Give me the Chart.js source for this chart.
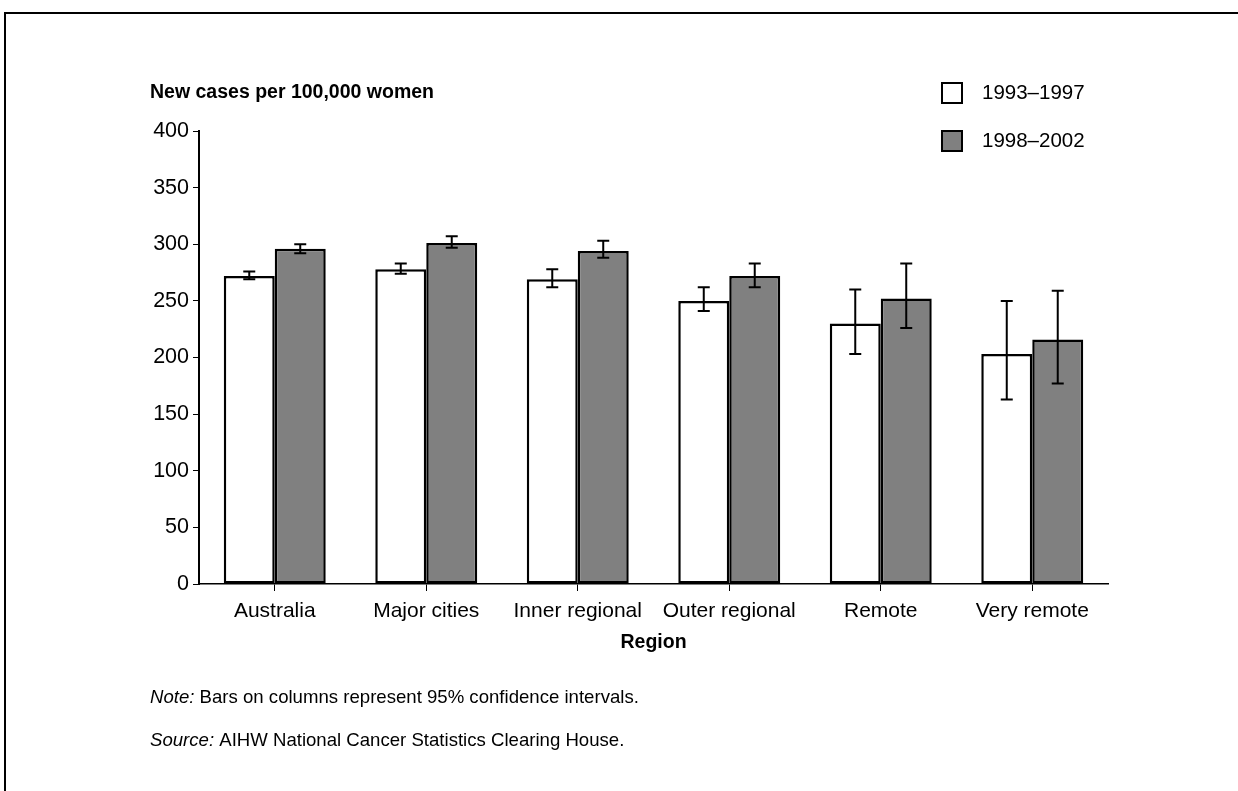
<!DOCTYPE html>
<html>
<head>
<meta charset="utf-8">
<script src="https://cdn.jsdelivr.net/npm/chart.js@4.4.0/dist/chart.umd.min.js"></script>
<style>
  html, body { margin: 0; padding: 0; background: #fff; overflow: hidden; }
  #frame { position: absolute; left: 4px; top: 12px; width: 1300px; height: 900px; border-left: 2px solid #000; border-top: 2px solid #000; }
  #wrap { position: absolute; left: 0; top: 0; width: 1238px; height: 791px; }
</style>
</head>
<body>
<div id="frame"></div>
<div id="wrap"><canvas id="chart" width="1238" height="791"></canvas></div>
<script>
// Regions on the x axis
const regions = ["Australia", "Major cities", "Inner regional", "Outer regional", "Remote", "Very remote"];
const seriesNames = ["1993\u20131997", "1998\u20132002"];

// New cases per 100,000 women, with 95% confidence intervals
const cases1993 = [272, 278, 269, 250, 230, 203];
const low1993 = [269, 274, 262, 241, 203, 163];
const high1993 = [276, 283, 278, 262, 260, 250];

const cases1998 = [296, 301, 294, 272, 252, 216];
const low1998 = [292, 297, 288, 262, 226, 177];
const high1998 = [300, 307, 303, 283, 283, 259];

const yMin = 0;
const yMax = 400;
const yStep = 50;

const FONT = "'Liberation Sans', Arial, Helvetica, sans-serif";
Chart.defaults.font.family = FONT;
Chart.defaults.color = "#000";

//Draw the confidence interval whiskers on each bar
const errorBars = {
  id: "errorBars",
  afterDatasetsDraw(chart) {
    const ctx = chart.ctx;
    const yScale = chart.scales.y;
    const ranges = [
      [low1993, high1993],
      [low1998, high1998],
    ];
    ctx.save();
    ctx.strokeStyle = "#000";
    ctx.lineWidth = 2;
    chart.data.datasets.forEach((ds, i) => {
      const meta = chart.getDatasetMeta(i);
      meta.data.forEach((bar, j) => {
        const x = bar.x;
        const yLo = yScale.getPixelForValue(ranges[i][0][j]);
        const yHi = yScale.getPixelForValue(ranges[i][1][j]);
        ctx.beginPath();
        ctx.moveTo(x, yLo);
        ctx.lineTo(x, yHi);
        ctx.moveTo(x - 6, yLo);
        ctx.lineTo(x + 6, yLo);
        ctx.moveTo(x - 6, yHi);
        ctx.lineTo(x + 6, yHi);
        ctx.stroke();
      });
    });
    ctx.restore();
  },
};

//Axis title, legend and notes
const extraText = {
  id: "extraText",
  afterDraw(chart) {
    const ctx = chart.ctx;
    const area = chart.chartArea;
    ctx.save();
    ctx.fillStyle = "#000";
    ctx.textBaseline = "middle";

    // y axis title
    ctx.font = "bold 19.5px " + FONT;
    ctx.textAlign = "left";
    ctx.fillText("New cases per 100,000 women", 150, 93);

    // x axis title
    ctx.textAlign = "center";
    ctx.fillText("Region", (area.left + area.right) / 2, 643);

    // legend
    const fills = ["#ffffff", "#808080"];
    const legendY = [93, 141];
    ctx.textAlign = "left";
    ctx.font = "20.5px " + FONT;
    for (let i = 0; i < seriesNames.length; i++) {
      ctx.fillStyle = fills[i];
      ctx.fillRect(942, legendY[i] - 10, 20, 20);
      ctx.strokeStyle = "#000";
      ctx.lineWidth = 2;
      ctx.strokeRect(942, legendY[i] - 10, 20, 20);
      ctx.fillStyle = "#000";
      ctx.fillText(seriesNames[i], 982, legendY[i]);
    }

    // notes
    const notes = [
      ["Note:", " Bars on columns represent 95% confidence intervals.", 698],
      ["Source:", " AIHW National Cancer Statistics Clearing House.", 741],
    ];
    for (const [label, text, y] of notes) {
      ctx.font = "italic 18.6px " + FONT;
      ctx.fillText(label, 150, y);
      const w = ctx.measureText(label).width;
      ctx.font = "18.6px " + FONT;
      ctx.fillText(text, 150 + w, y);
    }
    ctx.restore();
  },
};

const ctx = document.getElementById("chart").getContext("2d");
new Chart(ctx, {
  type: "bar",
  data: {
    labels: regions,
    datasets: [
      {
        label: seriesNames[0],
        data: cases1993,
        backgroundColor: "#ffffff",
        borderColor: "#000",
        borderWidth: 2.5,
        borderSkipped: false,
      },
      {
        label: seriesNames[1],
        data: cases1998,
        backgroundColor: "#808080",
        borderColor: "#000",
        borderWidth: 2.5,
        borderSkipped: false,
      },
    ],
  },
  options: {
    responsive: false,
    animation: false,
    devicePixelRatio: 1,
    datasets: {
      bar: {
        categoryPercentage: 0.673,
        barPercentage: 1.0,
      },
    },
    layout: {
      padding: { left: 0, right: 130, top: 131, bottom: 0 },
    },
    plugins: {
      legend: { display: false },
      title: { display: false },
      tooltip: { enabled: false },
    },
    scales: {
      x: {
        grid: {
          display: true,
          drawOnChartArea: false,
          offset: false,
          color: "#000",
          tickLength: 7,
        },
        border: { color: "#000", width: 1.5 },
        ticks: { color: "#000", font: { size: 21 }, padding: 8 },
        afterFit: (scale) => {
          scale.height = 207;
        },
      },
      y: {
        min: yMin,
        max: yMax,
        ticks: { stepSize: yStep, color: "#000", font: { size: 21.5 }, padding: 4 },
        grid: {
          drawOnChartArea: false,
          color: "#000",
          tickLength: 6,
        },
        border: { color: "#000", width: 2 },
        afterFit: (scale) => {
          scale.width = 199;
        },
      },
    },
  },
  plugins: [errorBars, extraText],
});
</script>
</body>
</html>
